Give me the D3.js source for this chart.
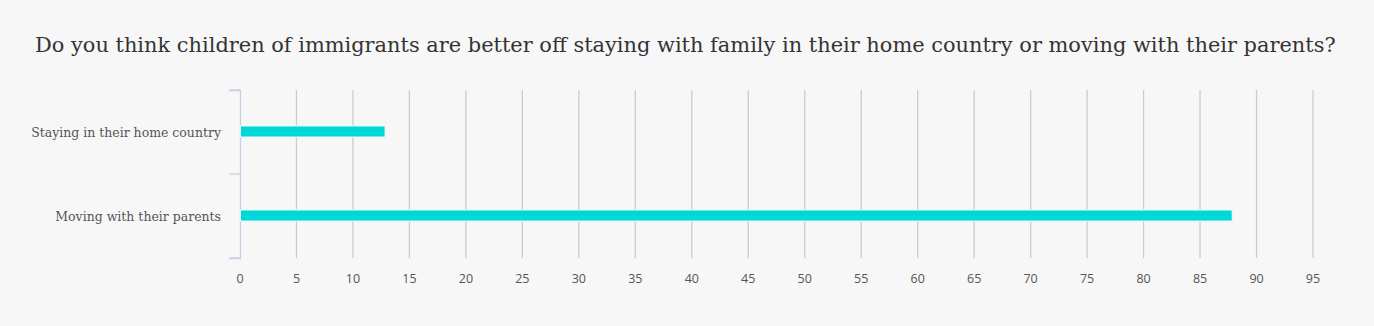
<!DOCTYPE html>
<html><head><meta charset="utf-8">
<script src="https://cdn.jsdelivr.net/npm/d3@7"></script>
<style>
html,body{margin:0;padding:0;background:#f7f7f7;}
svg{display:block;}
</style></head>
<body>
<svg id="chart" width="1374" height="326"></svg>
<script>
const title = "Do you think children of immigrants are better off staying with family in their home country or moving with their parents?";
const categories = ["Staying in their home country", "Moving with their parents"];
const values = [12.8, 87.8];
const xTicks = [0,5,10,15,20,25,30,35,40,45,50,55,60,65,70,75,80,85,90,95];

const svg = d3.select("#chart");
svg.append("rect").attr("width",1374).attr("height",326).attr("fill","#f7f7f7");

const titleT = svg.append("text").attr("x",35).attr("y",52)
  .attr("font-family","'DejaVu Serif', serif").attr("font-size",19)
  .attr("fill","#333").text(title);
const tw = titleT.node().getComputedTextLength();
titleT.attr("font-size", 19 * 1302 / tw);

const x = d3.scaleLinear().domain([0,95]).range([240,1313]);
const y = d3.scaleBand().domain(categories).range([90,258]);

svg.append("g").selectAll("line").data(xTicks.filter(d=>d>0)).join("line")
  .attr("x1",d=>x(d)).attr("x2",d=>x(d)).attr("y1",90).attr("y2",258)
  .attr("stroke","#cccccc").attr("stroke-width",1.3);

svg.append("g").selectAll("text").data(xTicks).join("text")
  .attr("x",d=>x(d)).attr("y",283).attr("text-anchor","middle")
  .attr("font-family","'Open Sans', sans-serif").attr("font-size",12.5)
  .attr("fill","#555").text(d=>d);

const yAxis = d3.axisLeft(y).tickSize(11).tickFormat(()=> "");
const yg = svg.append("g").attr("transform","translate(240,0)").call(yAxis);
yg.select(".domain").attr("stroke","#c3d1e6").attr("stroke-width",1.3);
yg.selectAll(".tick").remove();
const bounds = [90].concat(categories.map(c=>y(c)+y.bandwidth()));
svg.append("g").selectAll("line").data(bounds).join("line")
  .attr("x1",229).attr("x2",240).attr("y1",d=>d).attr("y2",d=>d)
  .attr("stroke","#c3d1e6").attr("stroke-width",1.3);

const labels = svg.append("g").selectAll("text").data(categories).join("text")
  .attr("x",221).attr("y",d=>y(d)+y.bandwidth()/2+4.5).attr("text-anchor","end")
  .attr("font-family","'DejaVu Serif', serif").attr("font-size",12)
  .attr("fill","#555").text(d=>d);
const lw = labels.nodes()[0].getComputedTextLength();
labels.attr("font-size", 12 * 190 / lw);

const bh = 11;
svg.append("g").selectAll("rect").data(values).join("rect")
  .attr("x",x(0)+0.5).attr("y",(d,i)=>y(categories[i])+y.bandwidth()/2-bh/2-0.5)
  .attr("width",d=>x(d)-x(0)).attr("height",bh)
  .attr("fill","#00d8d8").attr("stroke","#e6fbfb").attr("stroke-width",1);
</script>
</body></html>
